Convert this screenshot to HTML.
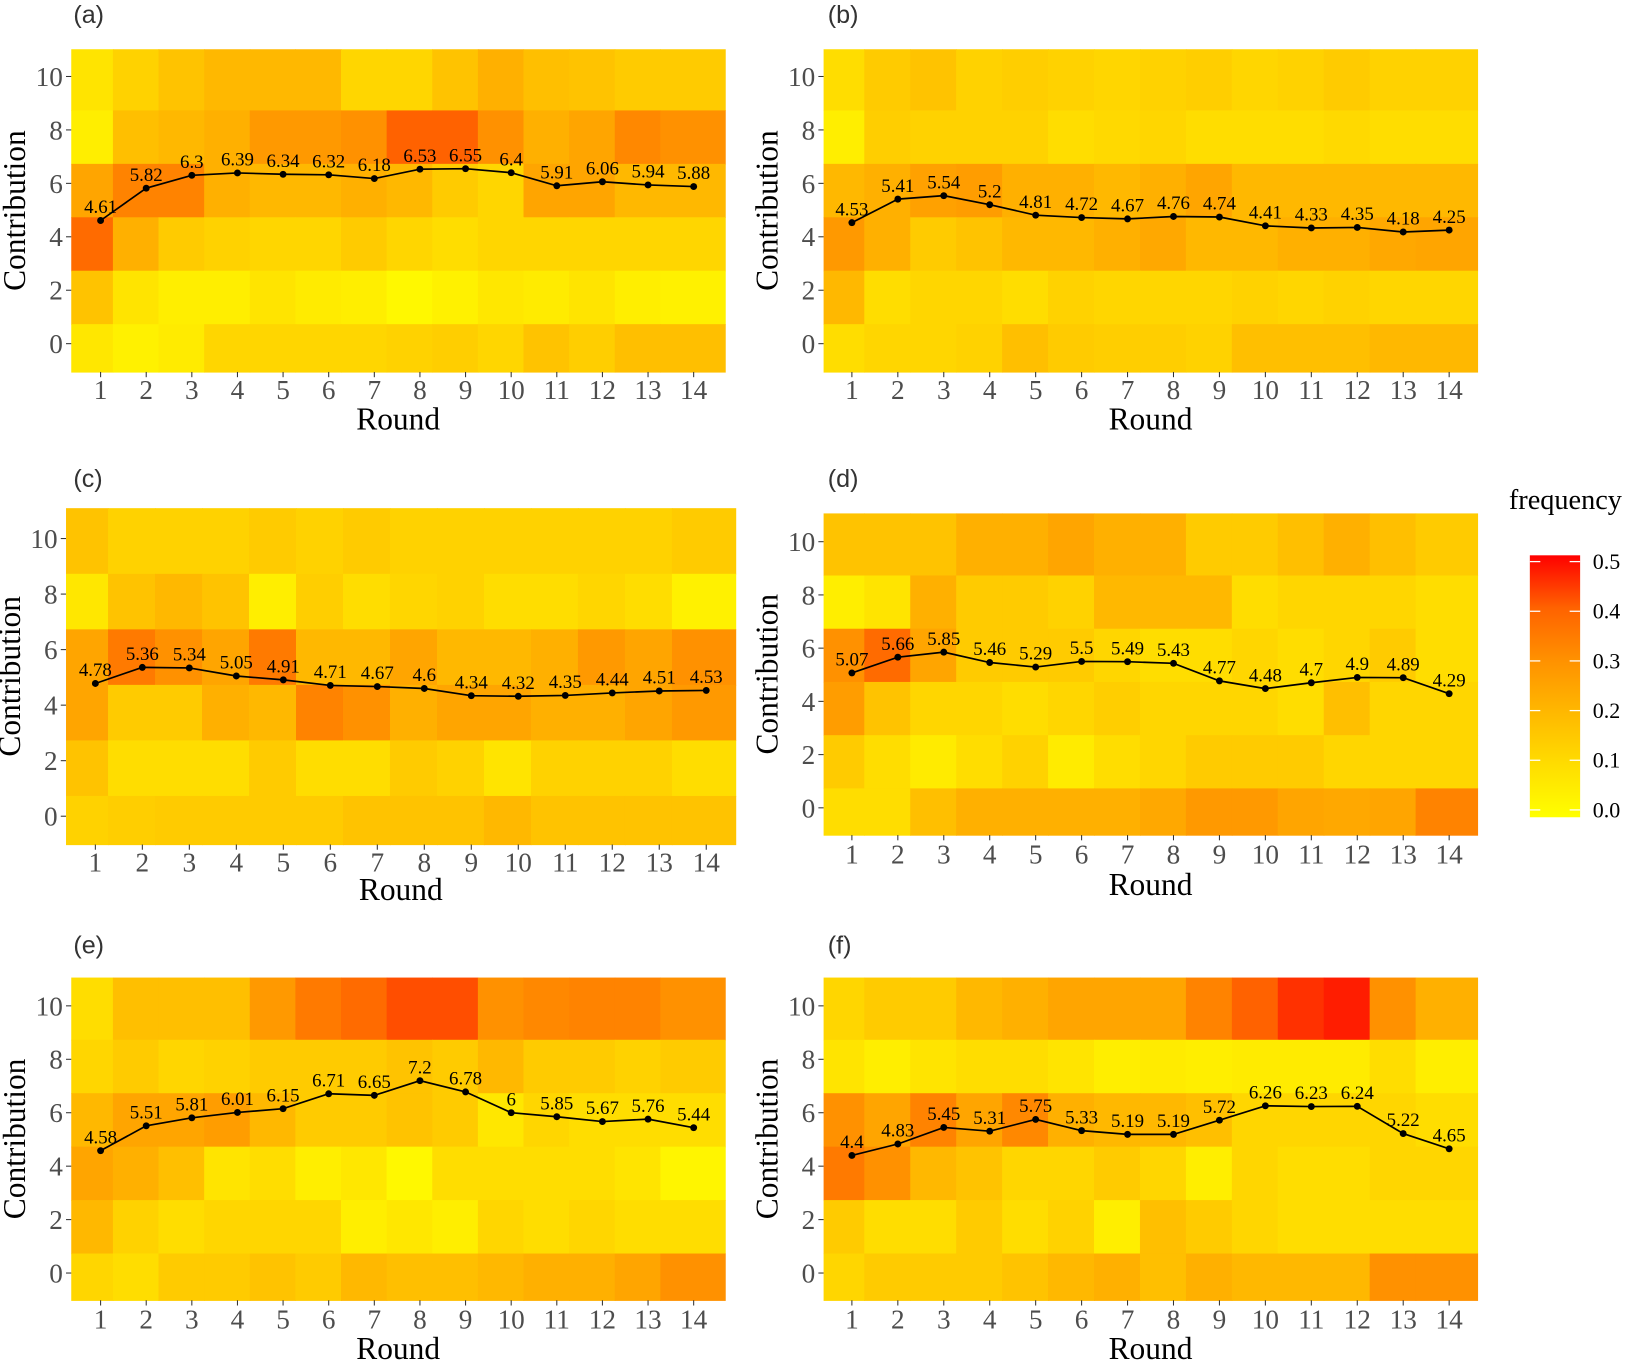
<!DOCTYPE html>
<html><head><meta charset="utf-8">
<style>html,body{margin:0;padding:0;background:#fff}svg{display:block}</style>
</head><body>
<svg id="s" xmlns="http://www.w3.org/2000/svg" width="1643" height="1360" viewBox="0 0 1568 1298" preserveAspectRatio="none"></svg>
<script>
const P=[
{t:"(a)",x0:68,x1:692,y0:47,y1:355,c1:96,c14:662,v10:73,v0:328,tk:372,rl:400,tx:70,ty:22,
m:[4.61,5.82,6.3,6.39,6.34,6.32,6.18,6.53,6.55,6.4,5.91,6.06,5.94,5.88],
f:[[.08,.13,.17,.2,.2,.2,.12,.12,.17,.22,.18,.17,.15,.15],
[.05,.18,.2,.22,.28,.28,.3,.4,.4,.3,.22,.25,.32,.3],
[.25,.33,.33,.22,.2,.2,.22,.2,.15,.12,.25,.25,.2,.2],
[.38,.22,.15,.13,.12,.12,.15,.12,.1,.12,.12,.12,.12,.12],
[.17,.08,.05,.05,.08,.06,.05,.02,.04,.07,.06,.08,.05,.04],
[.07,.04,.06,.12,.12,.12,.12,.13,.14,.12,.17,.14,.18,.18]]},
{t:"(b)",x0:786,x1:1410,y0:47,y1:355,c1:813,c14:1383,v10:73,v0:328,tk:372,rl:400,tx:790,ty:22,
m:[4.53,5.41,5.54,5.2,4.81,4.72,4.67,4.76,4.74,4.41,4.33,4.35,4.18,4.25],
f:[[.1,.15,.17,.13,.14,.13,.12,.13,.14,.12,.13,.15,.13,.13],
[.05,.14,.13,.13,.13,.1,.11,.12,.1,.1,.1,.11,.1,.1],
[.2,.22,.26,.27,.22,.22,.2,.22,.25,.2,.2,.2,.2,.2],
[.28,.22,.15,.17,.2,.2,.22,.24,.2,.2,.22,.22,.24,.25],
[.2,.1,.12,.12,.1,.13,.12,.12,.12,.13,.12,.13,.12,.12],
[.1,.12,.12,.13,.18,.15,.14,.14,.13,.18,.18,.18,.2,.2]]},
{t:"(c)",x0:63,x1:702,y0:485,y1:806,c1:91,c14:674,v10:514,v0:779,tk:823,rl:849,tx:70,ty:465,
m:[4.78,5.36,5.34,5.05,4.91,4.71,4.67,4.6,4.34,4.32,4.35,4.44,4.51,4.53],
f:[[.17,.13,.13,.13,.15,.13,.15,.13,.13,.13,.13,.13,.13,.15],
[.07,.17,.2,.17,.05,.14,.1,.12,.13,.1,.1,.12,.1,.04],
[.25,.35,.3,.25,.35,.2,.2,.25,.2,.2,.22,.28,.25,.3],
[.25,.15,.15,.22,.2,.33,.3,.22,.25,.25,.22,.22,.25,.28],
[.17,.1,.1,.1,.15,.1,.1,.15,.13,.08,.13,.13,.13,.1],
[.13,.14,.15,.15,.15,.15,.17,.17,.17,.2,.17,.17,.17,.17]]},
{t:"(d)",x0:786,x1:1410,y0:490,y1:797,c1:813,c14:1383,v10:517,v0:771,tk:815,rl:844,tx:790,ty:465,
m:[5.07,5.66,5.85,5.46,5.29,5.5,5.49,5.43,4.77,4.48,4.7,4.9,4.89,4.29],
f:[[.17,.17,.17,.22,.22,.25,.22,.22,.15,.15,.18,.22,.18,.15],
[.05,.08,.22,.15,.15,.13,.2,.2,.2,.1,.12,.12,.12,.1],
[.3,.38,.25,.15,.15,.15,.12,.1,.1,.12,.1,.12,.15,.1],
[.27,.17,.12,.12,.1,.12,.14,.12,.12,.12,.1,.18,.12,.12],
[.15,.1,.06,.1,.13,.06,.1,.12,.15,.15,.15,.12,.12,.12],
[.1,.1,.18,.22,.22,.22,.22,.24,.28,.28,.25,.24,.25,.33]]},
{t:"(e)",x0:68,x1:692,y0:933,y1:1241,c1:96,c14:662,v10:960,v0:1215,tk:1259,rl:1287,tx:70,ty:910,
m:[4.58,5.51,5.81,6.01,6.15,6.71,6.65,7.2,6.78,6,5.85,5.67,5.76,5.44],
f:[[.1,.18,.18,.18,.28,.35,.38,.42,.42,.3,.32,.33,.33,.3],
[.12,.15,.12,.13,.15,.15,.15,.17,.15,.2,.15,.15,.13,.15],
[.2,.25,.25,.27,.2,.15,.15,.17,.15,.07,.12,.1,.1,.1],
[.25,.22,.18,.08,.1,.05,.07,.02,.1,.1,.1,.1,.08,.03],
[.2,.13,.1,.12,.12,.12,.05,.07,.05,.12,.1,.12,.1,.1],
[.12,.1,.15,.15,.17,.15,.2,.18,.18,.2,.22,.22,.25,.3]]},
{t:"(f)",x0:786,x1:1410,y0:933,y1:1241,c1:813,c14:1383,v10:960,v0:1215,tk:1259,rl:1287,tx:790,ty:910,
m:[4.4,4.83,5.45,5.31,5.75,5.33,5.19,5.19,5.72,6.26,6.23,6.24,5.22,4.65],
f:[[.12,.15,.15,.2,.22,.25,.25,.25,.33,.4,.45,.47,.3,.22],
[.08,.05,.08,.1,.1,.08,.05,.06,.05,.06,.06,.06,.1,.05],
[.3,.25,.33,.25,.32,.22,.2,.2,.18,.12,.12,.12,.12,.1],
[.35,.3,.2,.17,.12,.12,.15,.12,.05,.12,.1,.1,.12,.12],
[.15,.1,.1,.15,.1,.13,.05,.18,.15,.12,.1,.1,.1,.1],
[.12,.15,.15,.15,.17,.2,.22,.18,.22,.2,.2,.2,.3,.3]]}
];
const G=[255,221,184,145,98,0];
function col(v){v=Math.max(0,Math.min(.5,v));let i=Math.min(4,Math.floor(v*10));let t=v*10-i;let g=Math.round(G[i]+(G[i+1]-G[i])*t);return `rgb(255,${g},0)`;}
let o="";
const SF='font-family="Liberation Serif, serif"';
for(const p of P){
 const sp=(p.c14-p.c1)/13, uy=(p.v0-p.v10)/10;
 const X=i=>p.c1+i*sp, Y=v=>p.v0-v*uy;
 const xb=[p.x0];for(let i=0;i<13;i++)xb.push(X(i)+0.27*sp);xb.push(p.x1);
 const yb=[p.y0];for(let v=8;v>=0;v-=2)yb.push(Y(v+0.73));yb.push(p.y1);
 for(let r=0;r<6;r++)for(let c=0;c<14;c++){
  o+=`<rect x="${xb[c]}" y="${yb[r]}" width="${xb[c+1]-xb[c]+0.6}" height="${yb[r+1]-yb[r]+0.6}" fill="${col(p.f[r][c])}"/>`;
 }
 o+=`<text x="${p.tx}" y="${p.ty}" font-family="Liberation Sans, sans-serif" font-size="24" fill="#333">${p.t}</text>`;
 for(let v=0;v<=10;v+=2){o+=`<line x1="${p.x0-5}" x2="${p.x0}" y1="${Y(v)}" y2="${Y(v)}" stroke="#333" stroke-width="1"/><text x="${p.x0-8}" y="${Y(v)+9}" text-anchor="end" ${SF} font-size="26" fill="#4d4d4d">${v}</text>`;}
 for(let i=0;i<14;i++){o+=`<line x1="${X(i)}" x2="${X(i)}" y1="${p.y1}" y2="${p.y1+5}" stroke="#333"/><text x="${X(i)}" y="${p.tk+9}" text-anchor="middle" ${SF} font-size="26" fill="#4d4d4d">${i+1}</text>`;}
 o+=`<text x="${(p.x0+p.x1)/2}" y="${p.rl+10}" text-anchor="middle" ${SF} font-size="30" fill="#000">Round</text>`;
 const cy=(p.y0+p.y1)/2;
 o+=`<text transform="translate(${p.x0-44},${cy}) rotate(-90)" text-anchor="middle" ${SF} font-size="30" fill="#000">Contribution</text>`;
 let pts=p.m.map((v,i)=>`${X(i)},${Y(v)}`).join(" ");
 o+=`<polyline points="${pts}" fill="none" stroke="#000" stroke-width="1.6"/>`;
 p.m.map((v,i)=>{o+=`<circle cx="${X(i)}" cy="${Y(v)}" r="3.3" fill="#000"/><text x="${X(i)}" y="${Y(v)-7}" text-anchor="middle" ${SF} font-size="18" fill="#000">${v}</text>`;});
}
// colorbar
o+=`<defs><linearGradient id="cb" x1="0" y1="1" x2="0" y2="0"><stop offset="0" stop-color="#ffff00"/><stop offset="0.2" stop-color="#ffdd00"/><stop offset="0.4" stop-color="#ffb800"/><stop offset="0.6" stop-color="#ff9100"/><stop offset="0.8" stop-color="#ff6200"/><stop offset="1" stop-color="#ff0000"/></linearGradient></defs>`;
o+=`<text x="1440" y="486" ${SF} font-size="27" fill="#000">frequency</text>`;
o+=`<rect x="1460" y="530" width="48" height="250" fill="url(#cb)"/>`;
for(let k=0;k<=5;k++){const y=773-k*47.4;o+=`<line x1="1460" x2="1470" y1="${y}" y2="${y}" stroke="#fff" stroke-width="1.2"/><line x1="1498" x2="1508" y1="${y}" y2="${y}" stroke="#fff" stroke-width="1.2"/><text x="1520" y="${y+7}" ${SF} font-size="21" fill="#000">${(k/10).toFixed(1)}</text>`;}
document.getElementById("s").innerHTML=o;
</script>
</body></html>
